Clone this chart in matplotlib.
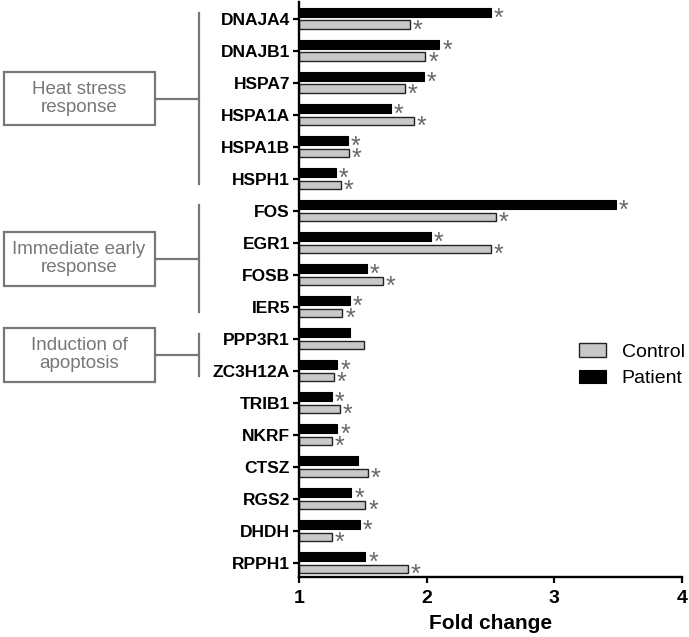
import matplotlib.pyplot as plt
import matplotlib.transforms as mtransforms
from matplotlib.patches import Rectangle
from matplotlib.lines import Line2D
import numpy as np

plt.rcParams['font.family'] = ['Liberation Sans', 'DejaVu Sans']

genes = ['DNAJA4', 'DNAJB1', 'HSPA7', 'HSPA1A', 'HSPA1B', 'HSPH1',
         'FOS', 'EGR1', 'FOSB', 'IER5',
         'PPP3R1', 'ZC3H12A', 'TRIB1', 'NKRF', 'CTSZ', 'RGS2', 'DHDH', 'RPPH1']
patient = [2.50, 2.10, 1.98, 1.72, 1.38, 1.29,
           3.48, 2.03, 1.53, 1.40,
           1.40, 1.30, 1.26, 1.30, 1.46, 1.41, 1.48, 1.52]
control = [1.87, 1.99, 1.83, 1.90, 1.39, 1.33,
           2.54, 2.50, 1.66, 1.34,
           1.51, 1.27, 1.32, 1.26, 1.54, 1.52, 1.26, 1.85]
# significance marks
patient_sig = [1, 1, 1, 1, 1, 1, 1, 1, 1, 1, 0, 1, 1, 1, 0, 1, 1, 1]
control_sig = [1, 1, 1, 1, 1, 1, 1, 1, 1, 1, 0, 1, 1, 1, 1, 1, 1, 1]

groups = ['Heat stress\nresponse', 'Immediate early\nresponse', 'Induction of\napoptosis']
group_span = [(0, 5), (6, 9), (10, 11)]

gray = '#777777'
y = np.arange(len(genes))
base = 1.0
h = 0.27

fig = plt.figure(figsize=(6.89, 6.37), dpi=100)
ax = fig.add_axes([0.434, 0.094, 0.556, 0.903])

pb = ax.barh(y - 0.195, np.array(patient) - base, left=base, height=h,
             color='black', edgecolor='black', linewidth=0.8, label='Patient')
cb = ax.barh(y + 0.195, np.array(control) - base, left=base, height=h,
             color='#c8c8c8', edgecolor='#222222', linewidth=1.0, label='Control')

for i in range(len(genes)):
    if patient_sig[i]:
        ax.annotate('*', (patient[i], y[i] - 0.195), xytext=(2, -4.5),
                    textcoords='offset points', ha='left', va='center',
                    fontsize=18, color='#666666')
    if control_sig[i]:
        ax.annotate('*', (control[i], y[i] + 0.195), xytext=(2, -4.5),
                    textcoords='offset points', ha='left', va='center',
                    fontsize=18, color='#666666')

ax.set_xlim(1, 4)
ax.set_ylim(17.45, -0.52)
ax.set_xticks([1, 2, 3, 4])
ax.set_xticklabels(['1', '2', '3', '4'], fontweight='bold', fontsize=14)
ax.set_yticks(y)
ax.set_yticklabels(genes, fontweight='bold', fontsize=12.5)
ax.set_xlabel('Fold change', fontweight='bold', fontsize=15, labelpad=5)
ax.spines['top'].set_visible(False)
ax.spines['right'].set_visible(False)
ax.spines['left'].set_linewidth(1.7)
ax.spines['bottom'].set_linewidth(1.7)
ax.tick_params(axis='both', width=1.6, length=4.5)
ax.tick_params(axis='y', pad=2)
ax.tick_params(axis='x', pad=5)

ax.legend(handles=[cb, pb], labels=['Control', 'Patient'], loc='upper left',
          bbox_to_anchor=(0.71, 0.42), frameon=False, fontsize=14,
          handlelength=1.4, handleheight=0.7, labelspacing=0.45,
          handletextpad=0.8, borderaxespad=0)

# group annotations on the left
btrans = mtransforms.blended_transform_factory(fig.transFigure, ax.transData)
fw = 689.0
for name, (a, b) in zip(groups, group_span):
    mid = (a + b) / 2.0
    xb = 199 / fw
    ax.add_line(Line2D([xb, xb], [a - 0.16, b + 0.16], transform=btrans,
                       color=gray, lw=1.6, clip_on=False))
    ax.add_line(Line2D([155 / fw, xb], [mid, mid], transform=btrans,
                       color=gray, lw=1.6, clip_on=False))
    ax.add_patch(Rectangle((3.5 / fw, mid - 0.84), 151.5 / fw, 1.68,
                           transform=btrans, fill=False, edgecolor=gray,
                           lw=1.6, clip_on=False))
    ax.text(79 / fw, mid, name, transform=btrans, ha='center', va='center',
            fontsize=13.5, color=gray, linespacing=1.1)

plt.savefig('out.png', dpi=100)
